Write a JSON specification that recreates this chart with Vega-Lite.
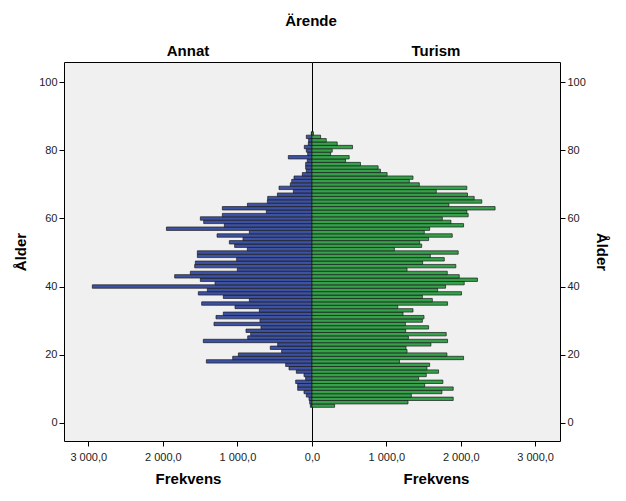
{
  "$schema": "https://vega.github.io/schema/vega-lite/v6.json",
  "background": "white",
  "padding": {"left": 13, "top": 14, "right": 10, "bottom": 10},
  "spacing": 0,
  "bounds": "flush",
  "title": {"text": "Ärende", "font": "Liberation Sans", "fontSize": 15, "fontWeight": "bold", "color": "#000", "anchor": "middle", "offset": 14},
  "datasets": {
    "annat": [
      {"alder": 5, "frekvens": 22}, {"alder": 6, "frekvens": 31}, {"alder": 7, "frekvens": 40}, {"alder": 8, "frekvens": 76},
      {"alder": 9, "frekvens": 107}, {"alder": 10, "frekvens": 192}, {"alder": 11, "frekvens": 192}, {"alder": 12, "frekvens": 219},
      {"alder": 13, "frekvens": 85}, {"alder": 14, "frekvens": 107}, {"alder": 15, "frekvens": 210}, {"alder": 16, "frekvens": 308},
      {"alder": 17, "frekvens": 353}, {"alder": 18, "frekvens": 1416}, {"alder": 19, "frekvens": 1063}, {"alder": 20, "frekvens": 987},
      {"alder": 21, "frekvens": 407}, {"alder": 22, "frekvens": 559}, {"alder": 23, "frekvens": 460}, {"alder": 24, "frekvens": 1457},
      {"alder": 25, "frekvens": 862}, {"alder": 26, "frekvens": 822}, {"alder": 27, "frekvens": 885}, {"alder": 28, "frekvens": 684},
      {"alder": 29, "frekvens": 1314}, {"alder": 30, "frekvens": 697}, {"alder": 31, "frekvens": 1287}, {"alder": 32, "frekvens": 1189},
      {"alder": 33, "frekvens": 706}, {"alder": 34, "frekvens": 1032}, {"alder": 35, "frekvens": 1479}, {"alder": 36, "frekvens": 840},
      {"alder": 37, "frekvens": 1189}, {"alder": 38, "frekvens": 1524}, {"alder": 39, "frekvens": 1403}, {"alder": 40, "frekvens": 2945},
      {"alder": 41, "frekvens": 1300}, {"alder": 42, "frekvens": 1497}, {"alder": 43, "frekvens": 1841}, {"alder": 44, "frekvens": 1631},
      {"alder": 45, "frekvens": 1001}, {"alder": 46, "frekvens": 1573}, {"alder": 47, "frekvens": 1564}, {"alder": 48, "frekvens": 1010},
      {"alder": 49, "frekvens": 1537}, {"alder": 50, "frekvens": 1537}, {"alder": 51, "frekvens": 867}, {"alder": 52, "frekvens": 1037},
      {"alder": 53, "frekvens": 1108}, {"alder": 54, "frekvens": 925}, {"alder": 55, "frekvens": 1273}, {"alder": 56, "frekvens": 840},
      {"alder": 57, "frekvens": 1952}, {"alder": 58, "frekvens": 1175}, {"alder": 59, "frekvens": 1452}, {"alder": 60, "frekvens": 1497},
      {"alder": 61, "frekvens": 1202}, {"alder": 62, "frekvens": 612}, {"alder": 63, "frekvens": 1202}, {"alder": 64, "frekvens": 866},
      {"alder": 65, "frekvens": 598}, {"alder": 66, "frekvens": 594}, {"alder": 67, "frekvens": 464}, {"alder": 68, "frekvens": 250},
      {"alder": 69, "frekvens": 442}, {"alder": 70, "frekvens": 290}, {"alder": 71, "frekvens": 272}, {"alder": 72, "frekvens": 241},
      {"alder": 73, "frekvens": 130}, {"alder": 74, "frekvens": 76}, {"alder": 75, "frekvens": 85}, {"alder": 76, "frekvens": 85},
      {"alder": 77, "frekvens": 63}, {"alder": 78, "frekvens": 317}, {"alder": 79, "frekvens": 58}, {"alder": 80, "frekvens": 76},
      {"alder": 81, "frekvens": 103}, {"alder": 82, "frekvens": 49}, {"alder": 83, "frekvens": 45}, {"alder": 84, "frekvens": 76},
      {"alder": 85, "frekvens": 10}
    ],
    "turism": [
      {"alder": 5, "frekvens": 304}, {"alder": 6, "frekvens": 1291}, {"alder": 7, "frekvens": 1899}, {"alder": 8, "frekvens": 1336},
      {"alder": 9, "frekvens": 1747}, {"alder": 10, "frekvens": 1899}, {"alder": 11, "frekvens": 1515}, {"alder": 12, "frekvens": 1760},
      {"alder": 13, "frekvens": 1434}, {"alder": 14, "frekvens": 1537}, {"alder": 15, "frekvens": 1702}, {"alder": 16, "frekvens": 1546},
      {"alder": 17, "frekvens": 1582}, {"alder": 18, "frekvens": 1176}, {"alder": 19, "frekvens": 2038}, {"alder": 20, "frekvens": 1814},
      {"alder": 21, "frekvens": 1278}, {"alder": 22, "frekvens": 1264}, {"alder": 23, "frekvens": 1599}, {"alder": 24, "frekvens": 1823},
      {"alder": 25, "frekvens": 1296}, {"alder": 26, "frekvens": 1805}, {"alder": 27, "frekvens": 1260}, {"alder": 28, "frekvens": 1568},
      {"alder": 29, "frekvens": 1256}, {"alder": 30, "frekvens": 1484}, {"alder": 31, "frekvens": 1506}, {"alder": 32, "frekvens": 1224},
      {"alder": 33, "frekvens": 1358}, {"alder": 34, "frekvens": 1153}, {"alder": 35, "frekvens": 1823}, {"alder": 36, "frekvens": 1618},
      {"alder": 37, "frekvens": 1484}, {"alder": 38, "frekvens": 2011}, {"alder": 39, "frekvens": 1689}, {"alder": 40, "frekvens": 1796},
      {"alder": 41, "frekvens": 2047}, {"alder": 42, "frekvens": 2225}, {"alder": 43, "frekvens": 1980}, {"alder": 44, "frekvens": 1819},
      {"alder": 45, "frekvens": 1278}, {"alder": 46, "frekvens": 1934}, {"alder": 47, "frekvens": 1488}, {"alder": 48, "frekvens": 1779},
      {"alder": 49, "frekvens": 1591}, {"alder": 50, "frekvens": 1966}, {"alder": 51, "frekvens": 1108}, {"alder": 52, "frekvens": 1475},
      {"alder": 53, "frekvens": 1448}, {"alder": 54, "frekvens": 1568}, {"alder": 55, "frekvens": 1886}, {"alder": 56, "frekvens": 1510},
      {"alder": 57, "frekvens": 1582}, {"alder": 58, "frekvens": 2038}, {"alder": 59, "frekvens": 1868}, {"alder": 60, "frekvens": 1752},
      {"alder": 61, "frekvens": 2100}, {"alder": 62, "frekvens": 2082}, {"alder": 63, "frekvens": 2462}, {"alder": 64, "frekvens": 1841},
      {"alder": 65, "frekvens": 2283}, {"alder": 66, "frekvens": 2181}, {"alder": 67, "frekvens": 2091}, {"alder": 68, "frekvens": 1671},
      {"alder": 69, "frekvens": 2082}, {"alder": 70, "frekvens": 1443}, {"alder": 71, "frekvens": 1309}, {"alder": 72, "frekvens": 1358},
      {"alder": 73, "frekvens": 1010}, {"alder": 74, "frekvens": 920}, {"alder": 75, "frekvens": 889}, {"alder": 76, "frekvens": 652},
      {"alder": 77, "frekvens": 451}, {"alder": 78, "frekvens": 500}, {"alder": 79, "frekvens": 250}, {"alder": 80, "frekvens": 272},
      {"alder": 81, "frekvens": 545}, {"alder": 82, "frekvens": 339}, {"alder": 83, "frekvens": 192}, {"alder": 84, "frekvens": 116},
      {"alder": 85, "frekvens": 20}
    ]
  },
  "config": {
    "view": {"stroke": "#000", "strokeWidth": 1, "fill": "#f0f0f0"},
    "axis": {
      "labelFont": "Liberation Sans", "labelFontSize": 11, "labelColor": "#222",
      "titleFont": "Liberation Sans", "titleFontSize": 15, "titleFontWeight": "bold", "titleColor": "#000",
      "tickColor": "#000", "tickSize": 5, "domain": false, "grid": false,
      "labelFlush": false, "labelOverlap": false
    },
    "title": {"font": "Liberation Sans", "fontSize": 15, "fontWeight": "bold", "color": "#000"}
  },
  "hconcat": [
    {
      "title": {"text": "Annat", "anchor": "middle", "offset": 3.5},
      "width": 248,
      "height": 379,
      "data": {"name": "annat"},
      "mark": {"type": "bar", "orient": "horizontal", "height": 3.4, "fill": "#3d52a3", "stroke": "#1a1a1a", "strokeWidth": 0.7},
      "encoding": {
        "y": {"field": "alder", "type": "quantitative",
              "scale": {"domain": [-5.4, 106], "nice": false, "zero": false, "padding": 0},
              "axis": {"orient": "left", "values": [0, 20, 40, 60, 80, 100], "title": "Ålder", "labelPadding": 2, "titlePadding": 10}},
        "x": {"field": "frekvens", "type": "quantitative",
              "scale": {"domain": [0, 3325], "reverse": true, "nice": false, "zero": false},
              "axis": {"values": [0, 1000, 2000, 3000], "title": "Frekvens", "labelPadding": 5.3, "titlePadding": 9,
                       "labelExpr": "replace(replace(format(datum.value, ',.1f'), ',', ' '), '.', ',')"}}
      }
    },
    {
      "title": {"text": "Turism", "anchor": "middle", "offset": 3.5},
      "width": 248,
      "height": 379,
      "data": {"name": "turism"},
      "mark": {"type": "bar", "orient": "horizontal", "height": 3.4, "fill": "#35a24b", "stroke": "#1a1a1a", "strokeWidth": 0.7},
      "encoding": {
        "y": {"field": "alder", "type": "quantitative",
              "scale": {"domain": [-5.4, 106], "nice": false, "zero": false, "padding": 0},
              "axis": {"orient": "right", "values": [0, 20, 40, 60, 80, 100], "title": "Ålder", "labelPadding": 2, "titlePadding": 8}},
        "x": {"field": "frekvens", "type": "quantitative",
              "scale": {"domain": [0, 3335], "nice": false, "zero": false},
              "axis": {"values": [1000, 2000, 3000], "title": "Frekvens", "labelPadding": 5.3, "titlePadding": 9,
                       "labelExpr": "replace(replace(format(datum.value, ',.1f'), ',', ' '), '.', ',')"}}
      }
    }
  ]
}
